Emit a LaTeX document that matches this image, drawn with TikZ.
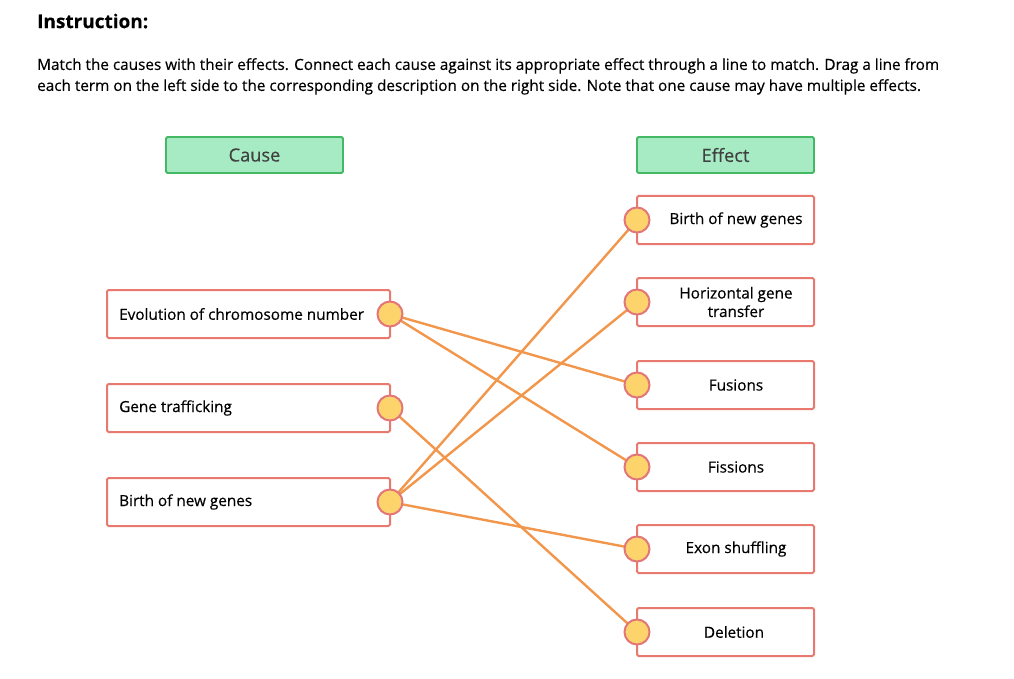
\documentclass[tikz,border=0pt]{standalone}
\usepackage{fontspec}
\setmainfont[FakeBold=0.35]{Open Sans}
\usetikzlibrary{backgrounds}

\definecolor{headfill}{HTML}{A6EBC3}
\definecolor{headline}{HTML}{45B864}
\definecolor{boxline}{HTML}{E8796F}
\definecolor{pinfill}{HTML}{FDD36C}
\definecolor{pinline}{HTML}{E2777A}
\definecolor{wire}{HTML}{F1964B}

\newcommand\causex{248.5}
\newcommand\effectx{725.5}
\newcommand\causepin{390}
\newcommand\effectpin{637}

\tikzset{
	headbox/.style = {draw = headline, fill = headfill, line width = 1.8pt, rounded corners = 1.5pt,
		minimum width = 177pt, minimum height = 36pt, font = \fontsize{18.2}{21}\selectfont, text = black!75},
	itembox/.style = {draw = boxline, fill = white, line width = 2pt, rounded corners = 1.5pt,
		minimum height = 48pt},
	pin/.style = {circle, draw = pinline, fill = pinfill, line width = 2pt, minimum size = 25pt, inner sep = 0pt},
	wire/.style = {draw = wire, line width = 2.4pt}
}

\begin{document}
\begin{tikzpicture}[x = 1pt, y = -1pt, font = \fontsize{15.3}{19}\selectfont]
	\useasboundingbox (0, 0) rectangle (1014, 679);

	% Anweisung
	\node [anchor = west, inner sep = 0pt, font = \fontsize{19}{22}\bfseries] (title) at (37, 21) {Instruction:};
	\node [anchor = north west, align = left, inner sep = 0pt, font = \fontsize{15.3}{21}\selectfont] (intro) at (37, 58)
		{Match the causes with their effects. Connect each cause against its appropriate effect through a line to match. Drag a line from\\
		each term on the left side to the corresponding description on the right side. Note that one cause may have multiple effects.};

	% Kopfzeilen
	\node [headbox] (cause) at (254.5, 155) {Cause};
	\node [headbox] (effect) at (\effectx, 155) {Effect};

	% Ursachen
	\foreach \name/\y/\label in {evo/314/Evolution of chromosome number, traf/408/Gene trafficking, birthL/502/Birth of new genes} {
		\node [itembox, minimum width = 283pt] (\name) at (\causex, \y) {};
		\node [anchor = west, inner sep = 0pt] at (119, \y) {\label};
		\node [pin] (\name-pin) at (\causepin, \y) {};
	}

	% Wirkungen
	\foreach \name/\y/\label in {
		birthR/220/Birth of new genes, hgt/302/Horizontal gene\\transfer, fus/385/Fusions,
		fis/467/Fissions, exon/549/Exon shuffling, del/632/Deletion
	} {
		\node [itembox, minimum width = 177pt] (\name) at (\effectx, \y) {};
		\node [align = center, font = \fontsize{15.3}{18.5}\selectfont] at (736, \y) {\label};
		\node [pin] (\name-pin) at (\effectpin, \y) {};
	}

	% Verbindungen
	\begin{pgfonlayer}{background}
		\foreach \a/\b in {evo/fus, evo/fis, traf/del, birthL/birthR, birthL/hgt, birthL/exon} {
			\draw [wire] (\a-pin.center) -- (\b-pin.center);
		}
	\end{pgfonlayer}
\end{tikzpicture}
\end{document}
